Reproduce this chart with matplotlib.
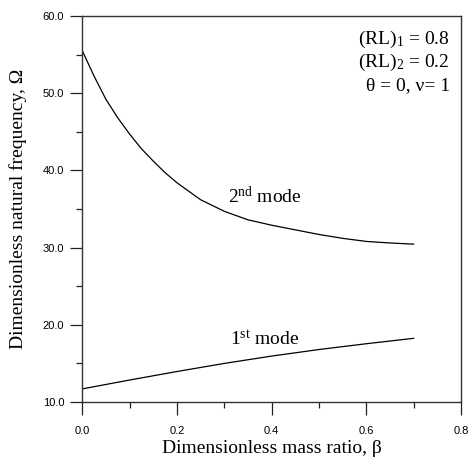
import matplotlib
matplotlib.use("Agg")
import matplotlib.pyplot as plt
from matplotlib.ticker import MultipleLocator, FormatStrFormatter

# mass ratio beta and the two natural frequencies
beta_2nd = [0.0, 0.025, 0.05, 0.075, 0.1, 0.125, 0.15, 0.175, 0.2, 0.25, 0.3, 0.35, 0.4,
            0.45, 0.5, 0.55, 0.6, 0.65, 0.7]
omega_2nd = [55.5, 52.2, 49.2, 46.8, 44.7, 42.8, 41.2, 39.7, 38.4, 36.2, 34.7, 33.6, 32.9,
             32.3, 31.7, 31.2, 30.8, 30.6, 30.45]

beta_1st = [0.0, 0.1, 0.2, 0.3, 0.4, 0.5, 0.6, 0.7]
omega_1st = [11.7, 12.85, 13.95, 15.0, 15.95, 16.8, 17.55, 18.25]

plt.rcParams['mathtext.fontset'] = 'custom'
plt.rcParams['mathtext.rm'] = 'Liberation Serif'
plt.rcParams['mathtext.it'] = 'Liberation Serif:italic'

serif = ['Liberation Serif', 'DejaVu Serif']
sans = ['Liberation Sans', 'DejaVu Sans']
fs = 14

fig = plt.figure(figsize=(4.71, 4.66), dpi=100)
ax = fig.add_axes([0.1747, 0.1373, 0.8041, 0.8284])

ax.plot(beta_2nd, omega_2nd, color='black', lw=0.9)
ax.plot(beta_1st, omega_1st, color='black', lw=0.9)

ax.set_xlim(0.0, 0.8)
ax.set_ylim(10.0, 60.0)
ax.xaxis.set_major_locator(MultipleLocator(0.2))
ax.xaxis.set_minor_locator(MultipleLocator(0.1))
ax.yaxis.set_major_locator(MultipleLocator(10))
ax.yaxis.set_minor_locator(MultipleLocator(5))
ax.xaxis.set_major_formatter(FormatStrFormatter('%.1f'))
ax.yaxis.set_major_formatter(FormatStrFormatter('%.1f'))
ax.tick_params(which='major', direction='out', length=9, width=0.9, labelsize=8, color='#222222')
ax.tick_params(which='minor', direction='out', length=4.5, width=0.9, color='#222222')
ax.tick_params(axis='x', pad=8)
ax.tick_params(axis='y', pad=4)
for lab in ax.get_xticklabels() + ax.get_yticklabels():
    lab.set_family(sans)
for sp in ax.spines.values():
    sp.set_linewidth(1.0)
    sp.set_color('#333333')

ax.set_xlabel('Dimensionless mass ratio, β', family=serif, fontsize=fs, labelpad=3)
ax.set_ylabel('Dimensionless natural frequency, Ω', family=serif, fontsize=fs, labelpad=11)

ax.text(0.385, 35.8, r'2$^{\mathrm{nd}}$ mode', family=serif, fontsize=fs, ha='center')
ax.text(0.385, 17.3, r'1$^{\mathrm{st}}$ mode', family=serif, fontsize=fs, ha='center')

ax.text(0.776, 56.4, '(RL)$_1$ = 0.8', family=serif, fontsize=fs, ha='right')
ax.text(0.776, 53.35, '(RL)$_2$ = 0.2', family=serif, fontsize=fs, ha='right')
ax.text(0.776, 50.45, 'θ = 0, ν= 1', family=serif, fontsize=fs, ha='right')

fig.savefig('out.png', dpi=100)
